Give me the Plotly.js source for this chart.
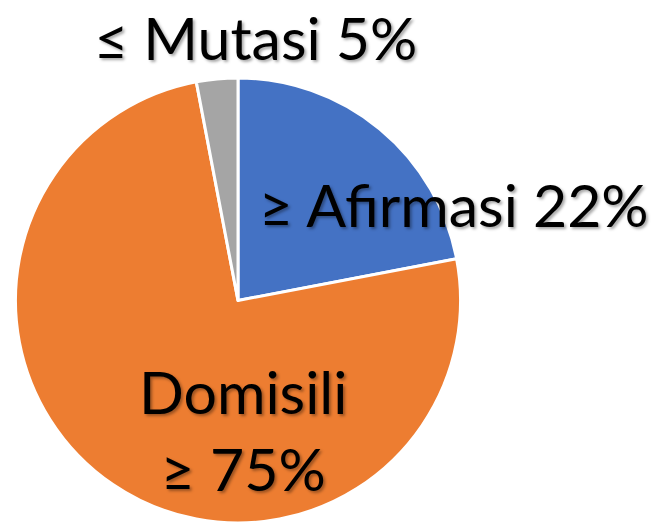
<!DOCTYPE html>
<html><head><meta charset="utf-8">
<script src="https://cdn.plot.ly/plotly-3.0.1.min.js"></script>
<style>html,body{margin:0;padding:0;background:#fff}</style>
</head><body><div id="chart" style="width:656px;height:523px"></div>
<script>
const categories = ["Afirmasi", "Domisili", "Mutasi"];
const values = [22, 75, 3];
const labelTexts = ["≥ Afirmasi 22%", "Domisili<br>≥ 75%", "≤ Mutasi 5%"];
const colors = ["#4472C4", "#ED7D31", "#A5A5A5"];

const fontFam = "Lato, 'Open Sans', sans-serif";
const shadow = "2px 2px 3px rgba(0,0,0,0.35)";
const fs = 59;
const data = [{
  type: "pie",
  labels: categories,
  values: values,
  sort: false,
  direction: "clockwise",
  rotation: 0,
  textinfo: "none",
  hoverinfo: "none",
  marker: {colors: colors, line: {color: "#fff", width: 3}},
  domain: {x: [14/656, 462/656], y: [0, 0.851]},
  showlegend: false
}];
const layout = {
  width: 656, height: 523,
  margin: {l: 0, r: 0, t: 0, b: 0},
  paper_bgcolor: "#fff",
  annotations: [
    {text: labelTexts[0], x: 454/656, y: 1 - 204/523, xref: "paper", yref: "paper", showarrow: false, xanchor: "center", yanchor: "middle", font: {family: fontFam, size: fs, color: "#000", shadow: shadow}},
    {text: labelTexts[1], x: 243/656, y: 1 - 430/523, xref: "paper", yref: "paper", showarrow: false, xanchor: "center", yanchor: "middle", font: {family: fontFam, size: fs, color: "#000", shadow: shadow}},
    {text: labelTexts[2], x: 255/656, y: 1 - 37/523, xref: "paper", yref: "paper", showarrow: false, xanchor: "center", yanchor: "middle", font: {family: fontFam, size: fs, color: "#000", shadow: shadow}}
  ]
};
Plotly.newPlot("chart", data, layout, {displayModeBar: false, staticPlot: true});
</script></body></html>
